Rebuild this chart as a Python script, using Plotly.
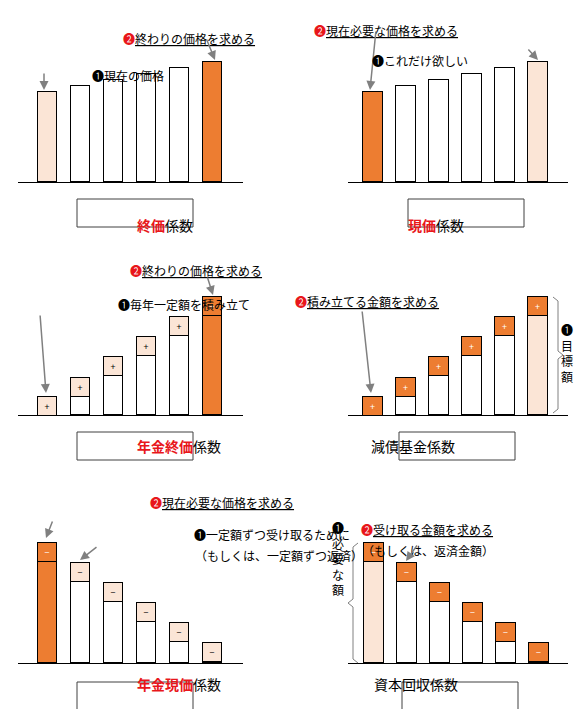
import plotly.graph_objects as go

W, H = 588, 709
ORANGE = "#ED7D31"
LIGHT = "#FBE5D6"
GRAY = "#808080"
FONT = "Noto Sans CJK JP"

# data per panel: total bar heights, cap (box) heights, base colours, cap colours, cap symbol
cats = [1, 2, 3, 4, 5, 6]
fv_totals = [90, 96, 102, 108, 114, 120]
pv_totals = [90, 96, 102, 108, 114, 120]
fva_totals = [18, 37, 58, 78, 98, 118]
sf_totals = [18, 37, 58, 78, 98, 118]
pva_totals = [120, 100, 80, 60, 40, 20]
cr_totals = [120, 100, 80, 60, 40, 20]
cap = 19

panels = [
    dict(tot=fv_totals, caps=[0] * 6, base=[LIGHT, "white", "white", "white", "white", ORANGE],
         capc=["white"] * 6, sym="", x=(10, 235), c0=39.5, y0=174),
    dict(tot=pv_totals, caps=[0] * 6, base=[ORANGE, "white", "white", "white", "white", LIGHT],
         capc=["white"] * 6, sym="", x=(340, 560), c0=365, y0=174),
    dict(tot=fva_totals, caps=[cap] * 6, base=["white"] * 5 + [ORANGE],
         capc=[LIGHT] * 5 + [ORANGE], sym="+", x=(10, 235), c0=39.5, y0=407),
    dict(tot=sf_totals, caps=[cap] * 6, base=["white"] * 5 + [LIGHT],
         capc=[ORANGE] * 6, sym="+", x=(340, 560), c0=365, y0=407),
    dict(tot=pva_totals, caps=[cap] * 6, base=[ORANGE] + ["white"] * 5,
         capc=[ORANGE] + [LIGHT] * 5, sym="−", x=(10, 235), c0=39.5, y0=655),
    dict(tot=cr_totals, caps=[cap] * 6, base=[LIGHT] + ["white"] * 5,
         capc=[ORANGE] * 6, sym="−", x=(340, 560), c0=366, y0=655),
]

fig = go.Figure()
layout = {}
for i, p in enumerate(panels):
    n = "" if i == 0 else str(i + 1)
    xa, ya = "x" + n, "y" + n
    base = [t - c for t, c in zip(p["tot"], p["caps"])]
    fig.add_trace(go.Bar(x=cats, y=base, marker=dict(color=p["base"], line=dict(color="black", width=1)),
                         xaxis=xa, yaxis=ya, width=0.6, hoverinfo="skip"))
    if any(p["caps"]):
        fig.add_trace(go.Bar(x=cats, y=p["caps"], text=[p["sym"]] * 6, textposition="inside",
                             insidetextanchor="middle", textangle=0,
                             textfont=dict(size=11, color=["white" if c == ORANGE else "black" for c in p["capc"]]),
                             marker=dict(color=p["capc"], line=dict(color="black", width=1)),
                             xaxis=xa, yaxis=ya, width=0.6, hoverinfo="skip"))
    xl, xr = p["x"]
    rng = [1 + (xl - p["c0"]) / 33, 1 + (xr - p["c0"]) / 33]
    layout["xaxis" + n] = dict(domain=[xl / W, xr / W], range=rng, anchor=ya, showline=True,
                               linecolor="black", linewidth=1, showticklabels=False,
                               ticks="", showgrid=False, zeroline=False, fixedrange=True)
    layout["yaxis" + n] = dict(domain=[1 - p["y0"] / H, 1 - (p["y0"] - 130) / H], range=[0, 130],
                               anchor=xa, visible=False, fixedrange=True)

fig.update_layout(**layout)


def px(x, y):
    return x / W, 1 - y / H


anns = []


def label(x, y, text, size=12, **kw):
    ax, ay = px(x, y)
    anns.append(dict(x=ax, y=ay, xref="paper", yref="paper", text=text, showarrow=False,
                     font=dict(family=FONT, size=size, color="black"), **kw))


def arrow(x0, y0, x1, y1):
    bx, by = px(x1, y1)
    anns.append(dict(x=bx, y=by, ax=x0 - x1, ay=y0 - y1, xref="paper", yref="paper",
                     text="", showarrow=True, arrowhead=2, arrowsize=1.2, arrowwidth=1.5, arrowcolor=GRAY))


R2 = "<span style='color:#E8161B'>❷</span>"
R1 = "❶"

label(113, 20, R2 + "<u>終わりの価格を求める</u>")
arrow(198, 30, 207, 52)
label(82, 57, R1 + "現在の価格")
arrow(36, 64, 36, 82)

label(452, 12, R2 + "<u>現在必要な価格を求める</u>")
arrow(368, 22, 362, 82)
label(462, 42, R1 + "これだけ欲しい")
arrow(519, 40, 530, 52)

label(120, 262, R2 + "<u>終わりの価格を求める</u>")
arrow(199, 268, 205, 287)
label(108, 296, R1 + "毎年一定額を積み立て")
arrow(32, 306, 38, 385)

label(433, 293, R2 + "<u>積み立てる金額を求める</u>")
arrow(354, 302, 363, 385)
label(567, 345, "❶<br>目<br>標<br>額", size=12)

label(140, 505, R2 + "<u>現在必要な価格を求める</u>")
arrow(45, 512, 38, 530)
label(184, 537, R1 + "一定額ずつ受け取るために")
label(185, 558, "（もしくは、一定額ずつ返済）")
arrow(90, 538, 72, 552)

label(487, 532, R2 + "<u>受け取る金額を求める</u>")
label(488, 553, "（もしくは、返済金額）")
arrow(410, 536, 398, 553)
label(330, 592, "❶<br>必<br>要<br>な<br>額", size=12)

boxes = [
    (127, 205, "<span style='color:#E8161B'><b>終価</b></span>係数"),
    (458, 205, "<span style='color:#E8161B'><b>現価</b></span>係数"),
    (127, 438, "<span style='color:#E8161B'><b>年金終価</b></span>係数"),
    (449, 438, "減債基金係数"),
    (127, 688, "<span style='color:#E8161B'><b>年金現価</b></span>係数"),
    (452, 688, "資本回収係数"),
]
for bx, by, t in boxes:
    label(bx, by, t, size=14)

shapes = []
for bx, by, t in boxes:
    x0, y0 = px(bx - 58, by - 14)
    x1, y1 = px(bx + 58, by + 14)
    shapes.append(dict(type="rect", xref="paper", yref="paper", x0=x0, x1=x1, y0=y1, y1=y0,
                       line=dict(color="#404040", width=1)))


def brace(x, top, bot, side):
    mid = (top + bot) / 2
    d = 5 * side
    pts = [(x - d, top), (x, top + 4), (x, mid - 4), (x + d, mid), (x, mid + 4), (x, bot - 4), (x - d, bot)]
    path = "M " + " L ".join(f"{a / W},{1 - b / H}" for a, b in pts)
    shapes.append(dict(type="path", xref="paper", yref="paper", path=path, line=dict(color=GRAY, width=1)))


brace(550, 289, 405, 1)
brace(345, 535, 655, -1)

fig.update_layout(annotations=anns, shapes=shapes, width=W, height=H, barmode="stack", bargap=0,
                  showlegend=False, margin=dict(l=0, r=0, t=0, b=0), plot_bgcolor="white",
                  paper_bgcolor="white", font=dict(family=FONT))
fig.write_html("out.html")
